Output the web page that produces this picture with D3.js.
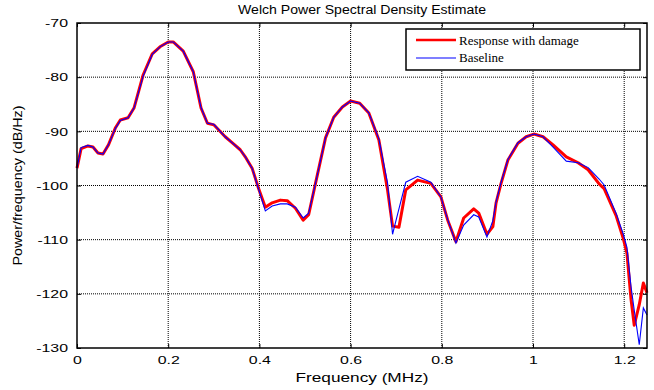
<!DOCTYPE html>
<html>
<head>
<meta charset="utf-8">
<style>
body { margin: 0; background: #fff; }
text { font-family: Arial, "Liberation Sans", sans-serif; fill: #000; }
.grid line { stroke: #000; stroke-width: 1px; stroke-dasharray: 1,1; }
.legend text { font-family: "Times New Roman", "Liberation Serif", serif; }
</style>
</head>
<body>
<script src="https://cdn.jsdelivr.net/npm/d3@7"></script>
<script>

// frequency samples (MHz)
var freq = [0, 0.009, 0.024, 0.035, 0.046, 0.057, 0.069, 0.084, 0.095, 0.112, 0.125, 0.145, 0.165, 0.182, 0.2, 0.211,
  0.233, 0.255, 0.272, 0.286, 0.3, 0.325, 0.34, 0.358, 0.369, 0.384, 0.398, 0.413, 0.428, 0.446, 0.461, 0.479,
  0.496, 0.508, 0.523, 0.545, 0.563, 0.582, 0.6, 0.62, 0.64, 0.662, 0.681, 0.692, 0.706, 0.721, 0.747, 0.776,
  0.798, 0.813, 0.831, 0.848, 0.87, 0.881, 0.899, 0.912, 0.919, 0.93, 0.945, 0.967, 0.985, 1.002, 1.022, 1.044,
  1.073, 1.099, 1.121, 1.145, 1.156, 1.182, 1.198, 1.206, 1.215, 1.222, 1.233, 1.242, 1.25];

// Response with damage (dB/Hz)
var damage = [-96.8, -93.2, -92.7, -92.9, -94.0, -94.2, -92.5, -89.4, -87.9, -87.5, -85.7, -79.6, -75.7, -74.4, -73.5, -73.5,
  -75.2, -79.0, -85.7, -88.5, -88.8, -91.0, -92.1, -93.4, -94.7, -96.8, -100.5, -104.0, -103.2, -102.7, -102.8, -104.2,
  -106.4, -105.4, -99.6, -91.2, -87.4, -85.5, -84.4, -84.8, -86.6, -91.6, -100.8, -107.5, -107.7, -100.8, -99.0, -99.6,
  -102.1, -106.4, -110.4, -106.0, -104.3, -105.1, -109.0, -107.6, -103.2, -99.6, -95.3, -92.2, -91.0, -90.5, -91.0, -92.5,
  -94.7, -95.8, -97.1, -99.7, -100.6, -105.5, -109.8, -112.5, -121.0, -125.8, -122.0, -118.0, -119.8];

// Baseline (dB/Hz)
var baseline = [-96.8, -93.0, -92.6, -92.9, -94.0, -94.2, -92.5, -89.5, -88.0, -87.5, -85.7, -79.8, -75.8, -74.4, -73.5, -73.5,
  -75.2, -79.0, -85.6, -88.5, -88.7, -91.0, -92.1, -93.4, -94.7, -96.8, -100.6, -104.7, -103.8, -103.4, -103.4, -104.0,
  -106.0, -105.1, -99.6, -91.2, -87.4, -85.5, -84.4, -84.8, -86.6, -91.4, -99.5, -109.0, -104.3, -99.4, -98.3, -99.4,
  -102.1, -106.3, -110.6, -107.3, -105.4, -105.8, -109.5, -106.5, -103.0, -99.4, -95.2, -92.1, -91.0, -90.5, -91.0, -92.9,
  -95.5, -95.8, -96.7, -98.8, -99.9, -105.1, -109.0, -111.4, -118.7, -123.0, -129.4, -122.6, -123.9];

var xTicks = [0, 0.2, 0.4, 0.6, 0.8, 1, 1.2];
var yTicks = [-130, -120, -110, -100, -90, -80, -70];

var width = 654, height = 390;
var mLeft = 77, mRight = 647, mTop = 23, mBottom = 348;

var svg = d3.select("body").append("svg")
    .attr("width", width)
    .attr("height", height);

var x = d3.scaleLinear().domain([0, 1.25]).range([mLeft, mRight]);
var y = d3.scaleLinear().domain([-130, -70]).range([mBottom, mTop]);

// stretch text horizontally like the original export
function stretch(sel, k) {
  sel.each(function() {
    var w = this.getComputedTextLength();
    d3.select(this).attr("textLength", w * k).attr("lengthAdjust", "spacingAndGlyphs");
  });
}
function fitTo(sel, w) {
  sel.attr("textLength", w).attr("lengthAdjust", "spacingAndGlyphs");
}

// grid
var grid = svg.append("g").attr("class", "grid");
grid.selectAll(".gx").data(xTicks.filter(function(d) { return d > 0; }))
  .enter().append("line")
    .attr("x1", function(d) { return x(d); }).attr("x2", function(d) { return x(d); })
    .attr("y1", mTop).attr("y2", mBottom);
grid.selectAll(".gy").data(yTicks.filter(function(d) { return d > -130 && d < -70; }))
  .enter().append("line")
    .attr("x1", mLeft).attr("x2", mRight)
    .attr("y1", function(d) { return y(d); }).attr("y2", function(d) { return y(d); });

// axes, ticks pointing inward
var fmt = function(d) { return d3.format("")(d).replace("\u2212", "-"); };
var gx = svg.append("g").attr("transform", "translate(0," + mBottom + ")")
    .call(d3.axisBottom(x).tickValues(xTicks).tickSizeInner(-4).tickSizeOuter(0).tickPadding(8).tickFormat(fmt));
var gxt = svg.append("g").attr("transform", "translate(0," + mTop + ")")
    .call(d3.axisTop(x).tickValues(xTicks).tickSizeInner(-4).tickSizeOuter(0).tickFormat(""));
var gy = svg.append("g").attr("transform", "translate(" + mLeft + ",0)")
    .call(d3.axisLeft(y).tickValues(yTicks).tickSizeInner(-4).tickSizeOuter(0).tickPadding(9).tickFormat(fmt));
var gyr = svg.append("g").attr("transform", "translate(" + mRight + ",0)")
    .call(d3.axisRight(y).tickValues(yTicks).tickSizeInner(-4).tickSizeOuter(0).tickFormat(""));

svg.selectAll(".domain").remove();
svg.selectAll(".tick line").attr("stroke", "#000");
svg.selectAll(".tick text").attr("font-size", 11.5).attr("font-family", "Arial, 'Liberation Sans', sans-serif").attr("fill", "#000");
gx.selectAll(".tick text").attr("dy", "0.71em");
stretch(svg.selectAll(".tick text"), 1.38);

// lines
var line = d3.line().x(function(d) { return x(d[0]); }).y(function(d) { return y(d[1]); });

var plot = svg.append("g");
plot.append("path")
    .datum(freq.map(function(f, i) { return [f, damage[i]]; }))
    .attr("d", line)
    .attr("fill", "none")
    .attr("stroke", "#ff0000")
    .attr("stroke-width", 3)
    .attr("stroke-linejoin", "round");
plot.append("path")
    .datum(freq.map(function(f, i) { return [f, baseline[i]]; }))
    .attr("d", line)
    .attr("fill", "none")
    .attr("stroke", "#0000ff")
    .attr("stroke-width", 1.1);

// frame
svg.append("rect")
    .attr("x", mLeft).attr("y", mTop)
    .attr("width", mRight - mLeft).attr("height", mBottom - mTop)
    .attr("fill", "none").attr("stroke", "#000").attr("stroke-width", 1.5);

// title and labels
svg.append("text")
    .attr("x", (mLeft + mRight) / 2).attr("y", 14)
    .attr("text-anchor", "middle").attr("font-size", 12)
    .text("Welch Power Spectral Density Estimate")
    .call(fitTo, 248);

svg.append("text")
    .attr("x", (mLeft + mRight) / 2).attr("y", 382)
    .attr("text-anchor", "middle").attr("font-size", 12)
    .text("Frequency (MHz)")
    .call(fitTo, 133);

svg.append("text")
    .attr("transform", "translate(22," + ((mTop + mBottom) / 2) + ") rotate(-90)")
    .attr("text-anchor", "middle").attr("font-size", 12)
    .text("Power/frequency (dB/Hz)")
    .call(fitTo, 160);

// legend
var legend = svg.append("g").attr("class", "legend");
legend.append("rect")
    .attr("x", 406).attr("y", 29).attr("width", 234).attr("height", 41)
    .attr("fill", "#fff").attr("stroke", "#000").attr("stroke-width", 1.5);

var items = [["Response with damage", "#ff0000", 2.5, 40, 45], ["Baseline", "#0000ff", 1.1, 58, 62]];
items.forEach(function(it) {
  legend.append("line")
      .attr("x1", 416).attr("x2", 456).attr("y1", it[3]).attr("y2", it[3])
      .attr("stroke", it[1]).attr("stroke-width", it[2]);
  legend.append("text")
      .attr("x", 459).attr("y", it[4]).attr("font-size", 13)
      .text(it[0]);
});

</script>
</body>
</html>
